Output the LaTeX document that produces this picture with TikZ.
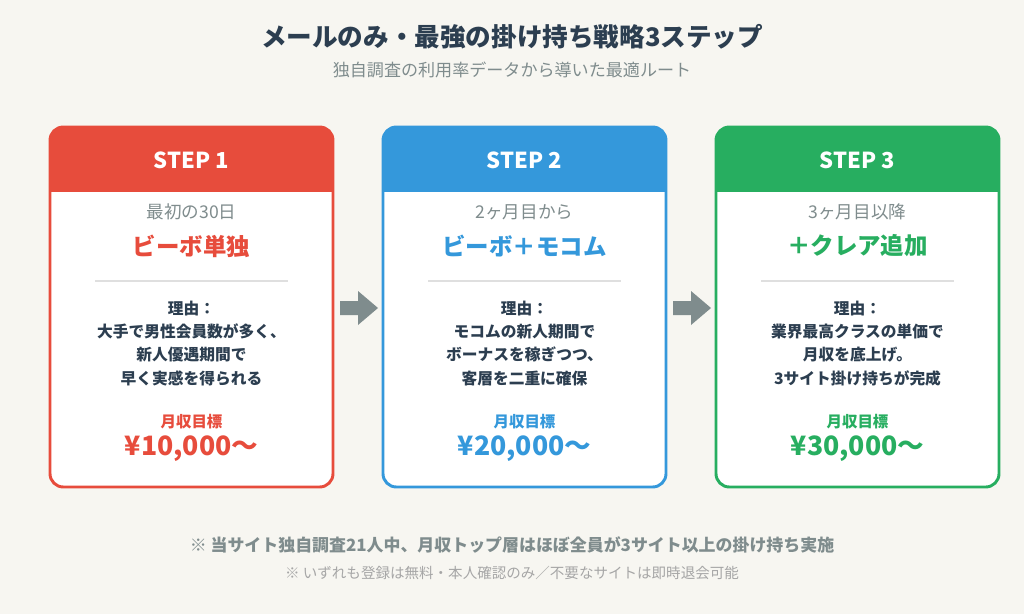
\documentclass[tikz,border=0pt]{standalone}
\usepackage{fontspec}
\setmainfont{Noto Sans CJK JP}
\usetikzlibrary{positioning}
\definecolor{bgc}{HTML}{F7F6F1}
\definecolor{ink}{HTML}{2C3E50}
\definecolor{grayt}{HTML}{7F8C8D}
\definecolor{stepred}{HTML}{E74C3C}
\definecolor{stepblue}{HTML}{3498DB}
\definecolor{stepgreen}{HTML}{27AE60}
\definecolor{arrowc}{HTML}{7F8C8D}
\tikzset{
  card/.style={draw=#1, line width=2.2pt, fill=white, rounded corners=10pt},
  when/.style={font=\fontsize{13.2}{15}\selectfont, text=grayt},
  plan/.style={font=\fontsize{17.6}{21}\selectfont\bfseries, text=#1},
  why/.style={font=\fontsize{11.8}{17.5}\selectfont\bfseries, text=ink, align=center},
  goal/.style={font=\fontsize{11.6}{13}\selectfont\bfseries, text=#1},
  amount/.style={font=\fontsize{20}{24}\selectfont\bfseries, text=#1},
  head/.style={font=\fontsize{16.5}{18}\selectfont\bfseries, text=white}
}
\begin{document}
\begin{tikzpicture}[x=0.75pt,y=-0.75pt]
  \fill[bgc] (0,0) rectangle (1024,614);
  \useasboundingbox (0,0) rectangle (1024,614);
  \node[font=\fontsize{19.2}{22}\selectfont\bfseries, text=ink] (title) at (512,37) {メールのみ・最強の掛け持ち戦略3ステップ};
  \node[font=\fontsize{12.8}{14}\selectfont, text=grayt] (sub) at (512,70) {独自調査の利用率データから導いた最適ルート};
  % cards
  \foreach \N/\X/\C/\W/\P/\La/\Lb/\Lc/\M in {
      1/50/stepred/最初の30日/ビーボ単独/大手で男性会員数が多く、/新人優遇期間で/早く実感を得られる/{10,000},
      2/383/stepblue/2ヶ月目から/ビーボ＋モコム/モコムの新人期間で/ボーナスを稼ぎつつ、/客層を二重に確保/{20,000},
      3/716/stepgreen/3ヶ月目以降/＋クレア追加/業界最高クラスの単価で/月収を底上げ。/3サイト掛け持ちが完成/{30,000}}
  {
    \begin{scope}
      \clip[rounded corners=10pt] (\X,127) rectangle (\X+283,487);
      \fill[white] (\X,127) rectangle (\X+283,487);
      \fill[\C] (\X,127) rectangle (\X+283,192);
    \end{scope}
    \draw[card=\C, fill=none] (\X,127) rectangle (\X+283,487);
    \node[head] (step\N) at (\X+141.5,160) {STEP \N};
    \node[when] (when\N) at (\X+141.5,212) {\W};
    \node[plan=\C] (plan\N) at (\X+141.5,246) {\P};
    \draw[gray!25, line width=0.8pt] (\X+45,281) -- (\X+238,281);
    \node[why, anchor=north] (why\N) at (\X+141.5,296) {理由：\\\La\\\Lb\\\Lc};
    \node[goal=\C] (goal\N) at (\X+141.5,422) {月収目標};
    \node[amount=\C] (amount\N) at (\X+141.5,449) {¥\M〜};
  }
  % arrows between cards
  \foreach \A in {340,673}
    \fill[arrowc] (\A,301) -- (\A+18,301) -- (\A+18,291) -- (\A+38,308) -- (\A+18,325) -- (\A+18,315) -- (\A,315) -- cycle;
  \node[font=\fontsize{12.7}{14}\selectfont\bfseries, text=grayt] (note) at (512,545) {※ 当サイト独自調査21人中、月収トップ層はほぼ全員が3サイト以上の掛け持ち実施};
  \node[font=\fontsize{10.9}{12}\selectfont, text=gray!70] (free) at (512,573) {※ いずれも登録は無料・本人確認のみ／不要なサイトは即時退会可能};
\end{tikzpicture}
\end{document}
